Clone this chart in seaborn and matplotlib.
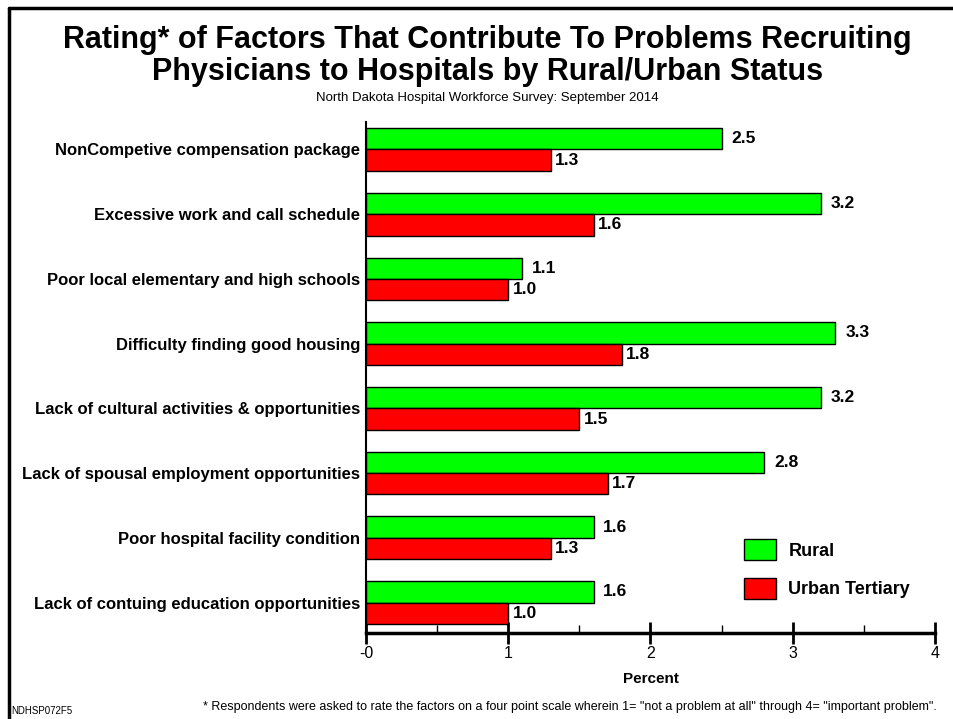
import pandas as pd
import matplotlib.pyplot as plt
import seaborn as sns
from matplotlib.lines import Line2D
from matplotlib.ticker import MultipleLocator

factors = ['NonCompetive compensation package',
           'Excessive work and call schedule',
           'Poor local elementary and high schools',
           'Difficulty finding good housing',
           'Lack of cultural activities & opportunities',
           'Lack of spousal employment opportunities',
           'Poor hospital facility condition',
           'Lack of contuing education opportunities']
rural = [2.5, 3.2, 1.1, 3.3, 3.2, 2.8, 1.6, 1.6]
urban = [1.3, 1.6, 1.0, 1.8, 1.5, 1.7, 1.3, 1.0]
groups = ['Rural', 'Urban Tertiary']
colors = ['#00ff00', '#ff0000']
xticks = [0, 1, 2, 3, 4]
xticklabels = ['-0', '1', '2', '3', '4']

df = pd.DataFrame({
    'factor': factors * 2,
    'value': rural + urban,
    'group': [groups[0]] * len(rural) + [groups[1]] * len(urban),
})

sns.set_style('white')
plt.rcParams['font.family'] = ['Liberation Sans', 'DejaVu Sans']
plt.rcParams['text.color'] = 'black'
plt.rcParams['axes.labelcolor'] = 'black'
plt.rcParams['xtick.color'] = 'black'
plt.rcParams['ytick.color'] = 'black'

fig = plt.figure(figsize=(9.54, 7.19), dpi=100)
ax = fig.add_axes([0.3836, 0.1196, 0.5965, 0.7104])

sns.barplot(data=df, x='value', y='factor', hue='group', orient='h',
            palette=colors, width=0.66, edgecolor='black', linewidth=1,
            saturation=1, ax=ax, legend=True)

for cont, pad in zip(ax.containers, [7, 3]):
    ax.bar_label(cont, fmt='%.1f', padding=pad, fontsize=12.5, fontweight='bold')

ax.set_xlim(0, 4)
ax.set_ylim(7.47, -0.42)
ax.set_xticks(xticks)
ax.set_xticklabels(xticklabels, fontsize=11.5)
ax.xaxis.set_minor_locator(MultipleLocator(0.5))
ax.tick_params(axis='x', which='both', bottom=True)
ax.tick_params(axis='x', which='major', direction='inout', length=16, width=2, pad=1)
ax.tick_params(axis='x', which='minor', direction='in', length=6, width=1)
ax.tick_params(axis='y', length=0, pad=4)
for lbl in ax.get_yticklabels():
    lbl.set_fontweight('bold')
    lbl.set_fontsize(12)
ax.set_ylabel('')
ax.set_xlabel('Percent', fontsize=11, fontweight='bold', labelpad=8)

for s in ['top', 'right']:
    ax.spines[s].set_visible(False)
ax.spines['bottom'].set_linewidth(2.5)
ax.spines['left'].set_linewidth(1.5)
ax.spines['bottom'].set_color('black')
ax.spines['left'].set_color('black')

leg = ax.legend(loc='lower right', bbox_to_anchor=(0.985, 0.035), frameon=False,
                prop={'weight': 'bold', 'size': 13}, handlelength=1.75,
                handleheight=1.4, labelspacing=1.0, handletextpad=0.7)

fig.text(0.511, 0.965, 'Rating* of Factors That Contribute To Problems Recruiting\n'
         'Physicians to Hospitals by Rural/Urban Status',
         ha='center', va='top', fontsize=22, fontweight='bold',
         family=['Liberation Sans Narrow', 'Liberation Sans'], linespacing=1.1)
fig.text(0.511, 0.864, 'North Dakota Hospital Workforce Survey: September 2014',
         ha='center', va='center', fontsize=9.5,
         family=['Liberation Sans Narrow', 'Liberation Sans'])
fig.text(0.012, 0.011, 'NDHSP072F5', ha='left', va='center', fontsize=7)
fig.text(0.213, 0.016, '* Respondents were asked to rate the factors on a four point scale wherein '
         '1= "not a problem at all" through 4= "important problem".',
         ha='left', va='center', fontsize=9)

fig.add_artist(Line2D([0.009, 0.009], [0, 0.989], color='black', linewidth=2.5,
                      transform=fig.transFigure))
fig.add_artist(Line2D([0.009, 1.0], [0.989, 0.989], color='black', linewidth=2.5,
                      transform=fig.transFigure))

fig.savefig('out.png', dpi=100)
